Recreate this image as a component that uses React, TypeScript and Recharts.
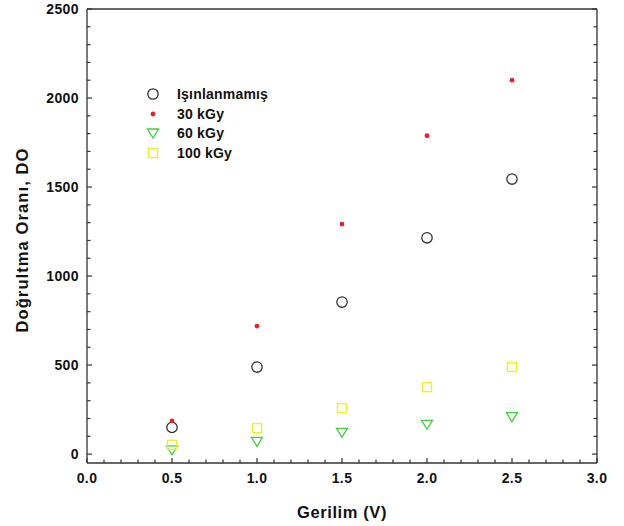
import React from 'react';
import { ScatterChart, Scatter, XAxis, YAxis, ReferenceLine, Legend } from 'recharts';

const voltages = [0.5, 1.0, 1.5, 2.0, 2.5];
const unirradiated = [150, 489, 854, 1215, 1545];
const kGy30 = [187, 719, 1292, 1788, 2100];
const kGy60 = [24, 71, 122, 167, 210];
const kGy100 = [52, 146, 258, 376, 489];

const seriesNames = ['Işınlanmamış', '30 kGy', '60 kGy', '100 kGy'];

const xTicks = [0, 0.1, 0.2, 0.3, 0.4, 0.5, 0.6, 0.7, 0.8, 0.9, 1.0, 1.1, 1.2, 1.3, 1.4, 1.5, 1.6, 1.7, 1.8, 1.9, 2.0, 2.1, 2.2, 2.3, 2.4, 2.5, 2.6, 2.7, 2.8, 2.9, 3.0];
const yTicks = [0, 100, 200, 300, 400, 500, 600, 700, 800, 900, 1000, 1100, 1200, 1300, 1400, 1500, 1600, 1700, 1800, 1900, 2000, 2100, 2200, 2300, 2400, 2500];

const toPoints = (ys: number[]) => voltages.map((x, i) => ({ x, y: ys[i] }));

const FONT = 'Arial, "Liberation Sans", sans-serif';
const AXIS = '#333';
const RED = '#e8202a';
const GREEN = '#3fcf3f';
const YELLOW = '#eeee2a';

const CircleShape = (p: any) => (
  <circle cx={p.cx} cy={p.cy} r={5.2} fill="none" stroke="#333" strokeWidth={1.3} />
);
const DotShape = (p: any) => <circle cx={p.cx} cy={p.cy} r={2.4} fill={RED} />;
const TriShape = (p: any) => (
  <polygon
    points={`${p.cx - 5.5},${p.cy - 4} ${p.cx + 5.5},${p.cy - 4} ${p.cx},${p.cy + 5}`}
    fill="none"
    stroke={GREEN}
    strokeWidth={1.3}
  />
);
const SquareShape = (p: any) => (
  <rect x={p.cx - 4.5} y={p.cy - 4.5} width={9} height={9} fill="none" stroke={YELLOW} strokeWidth={1.4} />
);

const shapes = [CircleShape, DotShape, TriShape, SquareShape];

const isMajorX = (v: number) => Math.abs(v * 2 - Math.round(v * 2)) < 1e-6;
const isMajorY = (v: number) => v % 500 === 0;

const BottomTick = (props: any) => {
  const { x, y, payload } = props;
  const v = payload.value as number;
  const major = isMajorX(v);
  return (
    <g>
      <line x1={x} x2={x} y1={y} y2={y - (major ? 5 : 3.5)} stroke={AXIS} strokeWidth={1.2} />
      {major && (
        <text x={x} y={y + 20} textAnchor="middle" fontFamily={FONT} fontWeight="bold" fontSize={14} fill="#111" letterSpacing={0.4}>
          {v.toFixed(1)}
        </text>
      )}
    </g>
  );
};

const LeftTick = (props: any) => {
  const { x, y, payload } = props;
  const v = payload.value as number;
  const major = isMajorY(v);
  return (
    <g>
      <line x1={x} x2={x + (major ? 5 : 3.5)} y1={y} y2={y} stroke={AXIS} strokeWidth={1.2} />
      {major && (
        <text x={x - 8} y={y + 5} textAnchor="end" fontFamily={FONT} fontWeight="bold" fontSize={14} fill="#111" letterSpacing={0.4}>
          {v}
        </text>
      )}
    </g>
  );
};

const RightTick = (props: any) => {
  const { x, y, payload } = props;
  const major = isMajorY(payload.value as number);
  return <line x1={x} x2={x - (major ? 5 : 3.5)} y1={y} y2={y} stroke={AXIS} strokeWidth={1.2} />;
};

const LegendContent = () => (
  <div style={{ fontFamily: FONT, fontWeight: 'bold', fontSize: 14, color: '#111', letterSpacing: 0.2 }}>
    {seriesNames.map((name, i) => {
      const Shape = shapes[i];
      return (
        <div key={name} style={{ display: 'flex', alignItems: 'center', height: 19.7 }}>
          <svg width={16} height={16} style={{ marginRight: 16 }}>
            <Shape cx={8} cy={8} />
          </svg>
          <span>{name}</span>
        </div>
      );
    })}
  </div>
);

export default function App() {
  const series = [unirradiated, kGy30, kGy60, kGy100];
  return (
    <div style={{ position: 'absolute', left: 0, top: 0, width: 624, height: 526, background: '#fff' }}>
      <ScatterChart width={624} height={526} margin={{ top: 9, right: 26, left: 0, bottom: 0 }}>
        <XAxis
          type="number"
          dataKey="x"
          domain={[0, 3]}
          ticks={xTicks}
          interval={0}
          tick={<BottomTick />}
          tickSize={0}
          tickMargin={0}
          tickLine={false}
          height={63}
          axisLine={{ stroke: AXIS, strokeWidth: 1.3 }}
          allowDataOverflow
          label={{
            value: 'Gerilim (V)',
            position: 'insideBottom',
            offset: 8,
            style: { fontFamily: FONT, fontWeight: 'bold', fontSize: 16.5, fill: '#111', letterSpacing: 0.6 },
          }}
        />
        <YAxis
          type="number"
          dataKey="y"
          domain={[-50, 2500]}
          ticks={yTicks}
          interval={0}
          tick={<LeftTick />}
          tickSize={0}
          tickMargin={0}
          tickLine={false}
          width={87}
          axisLine={{ stroke: AXIS, strokeWidth: 1.3 }}
          allowDataOverflow
          label={{
            value: 'Doğrultma Oranı, DO',
            angle: -90,
            position: 'insideLeft',
            offset: 22,
            dy: 4,
            style: { textAnchor: 'middle', fontFamily: FONT, fontWeight: 'bold', fontSize: 16.5, fill: '#111', letterSpacing: 1.1 },
          }}
        />
        <YAxis
          yAxisId="right"
          orientation="right"
          type="number"
          domain={[-50, 2500]}
          ticks={yTicks}
          interval={0}
          tick={<RightTick />}
          tickSize={0}
          tickMargin={0}
          tickLine={false}
          width={1}
          axisLine={{ stroke: AXIS, strokeWidth: 1.3 }}
          allowDataOverflow
        />
        <ReferenceLine y={2500} stroke={AXIS} strokeWidth={1.3} />
        {series.map((ys, i) => (
          <Scatter
            key={seriesNames[i]}
            name={seriesNames[i]}
            data={toPoints(ys)}
            shape={shapes[i]}
            isAnimationActive={false}
          />
        ))}
        <Legend
          layout="vertical"
          align="center"
          verticalAlign="middle"
          content={<LegendContent />}
          wrapperStyle={{ position: 'absolute', left: 145, top: 84, width: 'auto', height: 'auto' }}
        />
      </ScatterChart>
    </div>
  );
}
